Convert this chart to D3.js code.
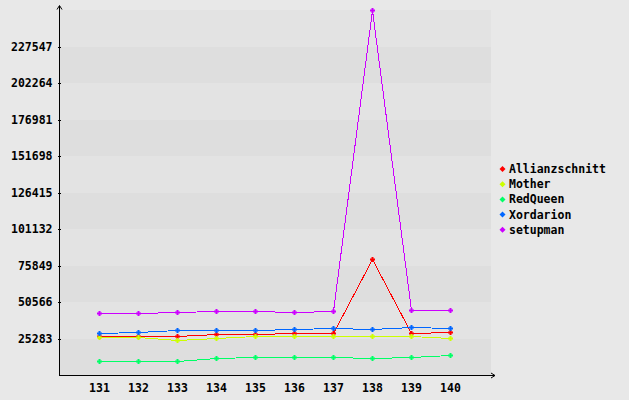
<!DOCTYPE html>
<html><head><meta charset="utf-8">
<script src="https://cdn.jsdelivr.net/npm/d3@7"></script>
<style>body{margin:0;background:#e8e8e8}svg{display:block}</style>
</head><body>
<svg id="c" width="629" height="400"></svg>
<script>
const categories = ["131","132","133","134","135","136","137","138","139","140"];
const seriesNames = ["Allianzschnitt","Mother","RedQueen","Xordarion","setupman"];
const colors = ["#ff0000","#ccff00","#00ff66","#0066ff","#cc00ff"];
const allianzschnitt = [26760,26760,26760,28140,28140,28830,28830,80690,28830,29520];
const mother = [26070,26070,23990,25370,26760,26760,26760,26760,26760,25370];
const redQueen = [9470,9470,9470,11550,12240,12240,12240,11550,12240,13620];
const xordarion = [28830,29520,30900,30900,30900,31600,32290,31600,32980,32290];
const setupman = [42660,42660,43350,44040,44040,43350,44040,252500,44730,44730];
const yTicks = [25283,50566,75849,101132,126415,151698,176981,202264,227547];
const yMax = 252830;
const series = [allianzschnitt, mother, redQueen, xordarion, setupman];

const svg = d3.select("#c");
const x = d3.scalePoint().domain(categories).range([60,489]).padding(1);
const y = d3.scaleLinear().domain([0,yMax]).range([375,10]);

// background bands
const bandEdges = [0].concat(yTicks).concat([yMax]);
for (let i=0;i<bandEdges.length-1;i++){
  svg.append("rect").attr("x",60).attr("width",431)
    .attr("y",y(bandEdges[i+1])).attr("height",y(bandEdges[i])-y(bandEdges[i+1]))
    .attr("fill", i%2===0 ? "#dedede" : "#e3e3e3");
}

const font = "'DejaVu Sans Mono', monospace";

// y axis
const ya = svg.append("g").attr("transform","translate(60.5,0)")
  .call(d3.axisLeft(y).tickValues(yTicks).tickSize(3).tickPadding(5).tickFormat(d3.format("d")));
ya.select(".domain").remove();
ya.selectAll("line").attr("stroke","#000").attr("shape-rendering","crispEdges");
ya.selectAll("text").attr("font-family",font).attr("font-weight","bold").attr("font-size","11.5px").attr("fill","#000");

// x axis labels
const xa = svg.append("g").attr("transform","translate(0,376.5)")
  .call(d3.axisBottom(x).tickSize(0).tickPadding(7));
xa.select(".domain").remove();
xa.selectAll("text").attr("font-family",font).attr("font-weight","bold").attr("font-size","11.5px").attr("fill","#000");

// axis lines with arrows
svg.append("line").attr("x1",59.5).attr("x2",59.5).attr("y1",6).attr("y2",376).attr("stroke","#000");
svg.append("path").attr("d","M57,9.5L59.5,5.5L62,9.5").attr("fill","none").attr("stroke","#000");
svg.append("line").attr("x1",59.5).attr("x2",495).attr("y1",375.5).attr("y2",375.5).attr("stroke","#000");
svg.append("path").attr("d","M491,373L495,375.5L491,378").attr("fill","none").attr("stroke","#000");

const marker = "M-1,-2.5h2v1.5h1.5v2h-1.5v1.5h-2v-1.5h-1.5v-2h1.5z";

const line = d3.line().x((d,i)=>x(categories[i])+0.5).y(d=>Math.round(y(d))+0.5);
series.forEach((s,k)=>{
  svg.append("path").attr("d",line(s)).attr("fill","none").attr("stroke",colors[k])
    .attr("stroke-width",1).attr("shape-rendering","crispEdges");
  svg.append("g").selectAll("path").data(s).join("path")
    .attr("transform",(d,i)=>`translate(${x(categories[i])+0.5},${Math.round(y(d))+0.5})`)
    .attr("d",marker).attr("fill",colors[k]);
});

// legend
const lg = svg.append("g");
seriesNames.forEach((n,k)=>{
  const yy = 169 + k*15.2;
  lg.append("path").attr("transform",`translate(502.5,${yy})`).attr("d","M0,-3L3,0L0,3L-3,0Z").attr("fill",colors[k]);
  lg.append("text").attr("x",509).attr("y",yy+4).text(n)
    .attr("font-family",font).attr("font-weight","bold").attr("font-size","11.5px").attr("fill","#000");
});
</script>
</body></html>
